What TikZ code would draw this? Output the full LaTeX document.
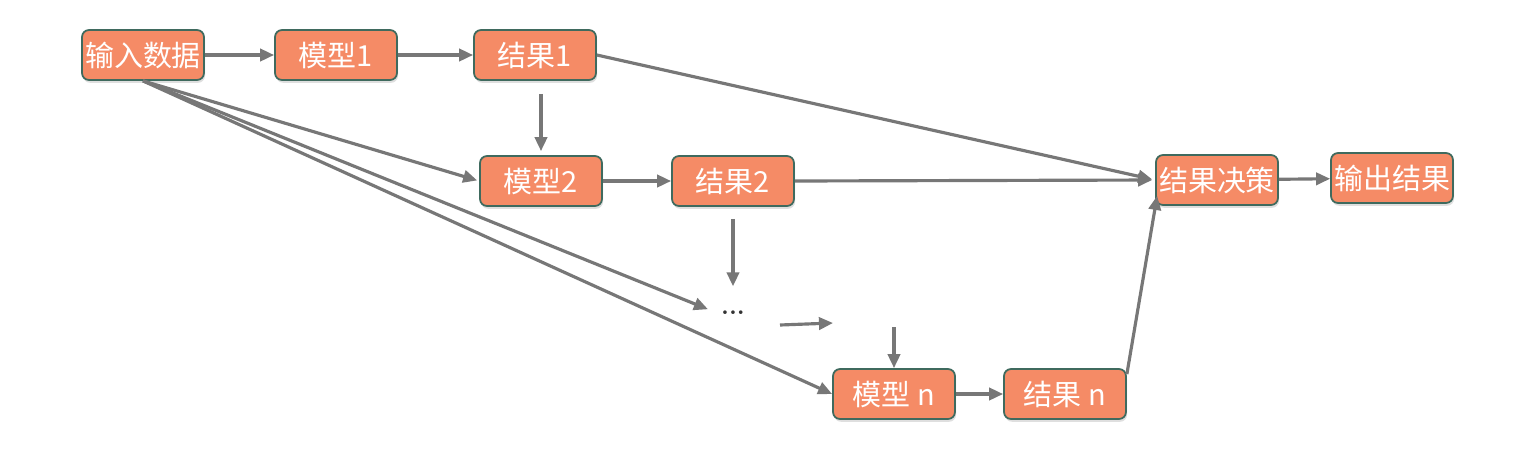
\documentclass[tikz,border=0pt]{standalone}
\usepackage{fontspec}
\newfontfamily\cjk{Noto Sans CJK SC}
\usetikzlibrary{arrows.meta,shadows}
\definecolor{boxfill}{HTML}{F58B66}
\definecolor{boxline}{HTML}{3F6A5E}
\definecolor{linkgray}{HTML}{777777}
\tikzset{
    box/.style={draw=boxline, line width=1pt, fill=boxfill, rounded corners=4pt,
      minimum width=2.44cm, minimum height=1cm, inner xsep=1pt, text=white,
      font=\cjk\fontsize{16.5}{18}\selectfont,
      drop shadow={opacity=0.25, shadow xshift=0.6pt, shadow yshift=-1.6pt}},
    link/.style={draw=linkgray, line width=1.8pt, -{Triangle[length=8pt,width=7pt]}},
  }

\begin{document}
\begin{tikzpicture}[x=0.02cm,y=-0.02cm]
                                    \useasboundingbox (0,0) rectangle (1529,461);
                                    % boites
                                    \node[box] (input) at (143,55) {输入数据};
                                    \node[box] (m1) at (336,55) {模型1};
                                    \node[box] (r1) at (535,55) {结果1};
                                    \node[box] (m2) at (541,181) {模型2};
                                    \node[box] (r2) at (733,181) {结果2};
                                    \node[box] (mn) at (894,394) {模型 n};
                                    \node[box] (rn) at (1065,394) {结果 n};
                                    \node[box] (dec) at (1217,180) {结果决策};
                                    \node[box] (out) at (1392,178) {输出结果};
                                    \node[text=black!80, font=\bfseries\Large, inner sep=2pt] (dots) at (733,313) {...};
                                    \coordinate (gapa) at (780,325);
                                    \coordinate (gapb) at (833,323);
                                    \coordinate (gapc) at (894,327);
                                    % fleches
                                    \draw[link] (input) -- (m1);
                                    \draw[link] (m1) -- (r1);
                                    \draw[link, shorten <=0.26cm, shorten >=0.08cm] (m2.north |- r1.south) -- (m2.north);
                                    \draw[link, shorten >=0.04cm] (input.south) -- (m2.west);
                                    \draw[link, shorten >=0.2cm] (input.south) -- (dots.west);
                                    \draw[link] (input.south) -- (mn.west);
                                    \draw[link] (m2) -- (r2);
                                    \draw[link, shorten <=0.24cm, shorten >=0.42cm] (r2.south) -- (dots.north);
                                    \draw[link] (gapa) -- (gapb);
                                    \draw[link] (gapc) -- (mn.north);
                                    \draw[link] (mn) -- (rn);
                                    \draw[link, shorten >=0.06cm] (r1.east) -- (dec.west);
                                    \draw[link, shorten >=0.06cm] (r2.east) -- (dec.west);
                                    \draw[link] ([yshift=-0.12cm]rn.north east) -- ([xshift=0.04cm,yshift=0.2cm]dec.south west);
                                    \draw[link] (dec) -- (out);
\end{tikzpicture}
\end{document}
